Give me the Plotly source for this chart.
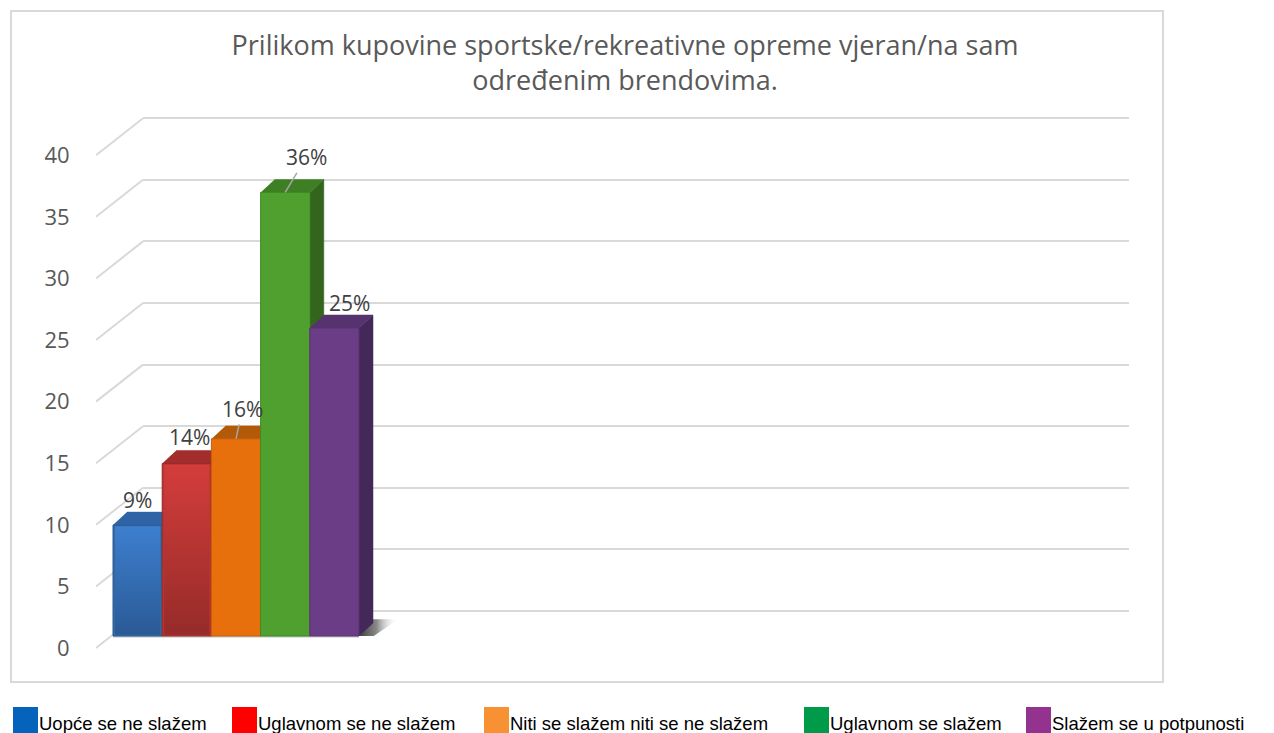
import plotly.graph_objects as go

W, H = 1274, 733

# data
categories = ['Uopće se ne slažem', 'Uglavnom se ne slažem', 'Niti se slažem niti se ne slažem',
              'Uglavnom se slažem', 'Slažem se u potpunosti']
values = [9, 14, 16, 36, 25]
y_ticks = [0, 5, 10, 15, 20, 25, 30, 35, 40]
title_text = "Prilikom kupovine sportske/rekreativne opreme vjeran/na sam<br>određenim brendovima."

# colours of the bar faces
front_colors = ['#34699F', '#B83433', '#E8700C', '#50A02F', '#6A3D86']
top_colors = ['#2E64A6', '#A32D2D', '#B35A08', '#3E7F24', '#56326E']
side_colors = ['#24497A', '#7A2222', '#8F4806', '#33661C', '#432859']
edge_colors = ['#2A5A95', '#962B29', '#C85F08', '#3F8A26', '#5A3373']
legend_colors = ['#0563BB', '#FF0000', '#F79133', '#009B48', '#93338F']
gradients = {0: ['#2A5A95', '#3D7FCF'], 1: ['#962B29', '#D33D3B']}

# layout in pixels
PX_PER_UNIT = 61.6 / 5
PX_PER_BAR = 49.2
PLOT_TOP, PLOT_BOTTOM = 100, 672
LEFT, BACK_LEFT, RIGHT = 96, 143, 1129
BAR_LEFT = 113
ZERO_LABELS, ZERO_BARS, ZERO_BACK = 648, 636, 611
SIDE_DX = 14 / PX_PER_BAR
SIDE_DY = 13 / PX_PER_UNIT


def px(x):
    return x / W


def py(y):
    return 1 - y / H


def y_range(zero):
    return [(zero - PLOT_BOTTOM) / PX_PER_UNIT, (zero - PLOT_TOP) / PX_PER_UNIT]


x_lo = -0.5 - (BAR_LEFT - LEFT) / PX_PER_BAR
x_hi = -0.5 + (RIGHT - BAR_LEFT) / PX_PER_BAR
y_dom = [py(PLOT_BOTTOM), py(PLOT_TOP)]

fig = go.Figure()

# back wall subplot, only there for its gridlines
fig.add_trace(go.Scatter(x=[0], y=[0], xaxis='x', yaxis='y', mode='markers', opacity=0,
                         hoverinfo='skip', showlegend=False))

# side wall lines going back from the tick labels
diag_x, diag_y = [], []
for t in y_ticks:
    diag_x += [x_lo, x_lo + (BACK_LEFT - LEFT) / PX_PER_BAR, None]
    diag_y += [t, t + (ZERO_LABELS - ZERO_BACK) / PX_PER_UNIT, None]
fig.add_trace(go.Scatter(x=diag_x, y=diag_y, xaxis='x2', yaxis='y2', mode='lines',
                         line=dict(color='#D9D9D9', width=2), hoverinfo='skip', showlegend=False))

# floor shadow behind the last bar
n = len(values)
right_edge = n - 0.5
fig.add_trace(go.Scatter(
    x=[right_edge, right_edge + SIDE_DX, right_edge + 0.8, right_edge + 0.3],
    y=[0, 1.35, 1.35, 0],
    xaxis='x2', yaxis='y3', mode='lines', line=dict(width=0), fill='toself',
    fillgradient=dict(type='horizontal',
                      colorscale=[[0, '#3F3F3F'], [0.45, '#8A8A8A'], [1, 'rgba(255,255,255,0)']]),
    hoverinfo='skip', showlegend=False))

# thin shadow under the bars
fig.add_trace(go.Scatter(x=[-0.5, right_edge], y=[-0.05, -0.05], xaxis='x2', yaxis='y3', mode='lines',
                         line=dict(color='#C4C4C4', width=2), hoverinfo='skip', showlegend=False))

# top and side faces, left to right so the next bar covers what it should
for i, v in enumerate(values):
    l, r = i - 0.5, i + 0.5
    fig.add_trace(go.Scatter(
        x=[r, r + SIDE_DX, r + SIDE_DX, r], y=[0, SIDE_DY, v + SIDE_DY, v],
        xaxis='x2', yaxis='y3', mode='lines', line=dict(width=0.5, color=side_colors[i]),
        fill='toself', fillcolor=side_colors[i], hoverinfo='skip', showlegend=False))
    fig.add_trace(go.Scatter(
        x=[l, r, r + SIDE_DX, l + SIDE_DX], y=[v, v, v + SIDE_DY, v + SIDE_DY],
        xaxis='x2', yaxis='y3', mode='lines', line=dict(width=0.5, color=top_colors[i]),
        fill='toself', fillcolor=top_colors[i], hoverinfo='skip', showlegend=False))

# front faces
for i, v in enumerate(values):
    fig.add_trace(go.Bar(x=[i], y=[v], width=1, name=categories[i], xaxis='x2', yaxis='y4',
                         marker=dict(color=front_colors[i], line=dict(color=edge_colors[i], width=1)),
                         showlegend=False))

# blue and red fade towards the floor
for i, stops in gradients.items():
    v = values[i]
    l, r = i - 0.46, i + 0.46
    fig.add_trace(go.Scatter(
        x=[l, r, r, l], y=[0.1, 0.1, v - 0.1, v - 0.1], xaxis='x2', yaxis='y4',
        mode='lines', line=dict(width=0), fill='toself',
        fillgradient=dict(type='vertical', colorscale=[[0, stops[0]], [1, stops[1]]]),
        hoverinfo='skip', showlegend=False))

# data labels, two of them with leader lines
label_font = dict(family='Open Sans', size=21, color='#404040')
label_offsets = [(0, 25), (3, 27), (6.5, 30), (21, 35), (15, 25)]
leaders = [False, False, True, True, False]
annotations = []
for i, v in enumerate(values):
    dx, dy = label_offsets[i]
    a = dict(x=i, y=v, xref='x2', yref='y4', text=f'{v}%', font=label_font, yanchor='middle', xanchor='center')
    if leaders[i]:
        a.update(showarrow=True, arrowhead=0, arrowwidth=1.5, arrowcolor='#A6A6A6', ax=dx, ay=-dy, standoff=0)
    else:
        a.update(showarrow=False, xshift=dx, yshift=dy)
    annotations.append(a)

# legend below the frame
legend_x = [13, 232, 484, 804, 1026]
shapes = [dict(type='rect', xref='paper', yref='paper', x0=px(11), x1=px(1163), y0=py(682), y1=py(11),
               line=dict(color='#D9D9D9', width=2), fillcolor='rgba(0,0,0,0)', layer='below')]
for name, color, lx in zip(categories, legend_colors, legend_x):
    shapes.append(dict(type='rect', xref='paper', yref='paper', x0=px(lx), x1=px(lx + 25),
                       y0=py(733), y1=py(707), line=dict(width=0), fillcolor=color))
    annotations.append(dict(x=px(lx + 25), y=py(723), xref='paper', yref='paper', text=name, showarrow=False,
                            xanchor='left', yanchor='middle', xshift=-1,
                            font=dict(family='Liberation Sans', size=18.5, color='#000000')))

hidden = dict(visible=False, fixedrange=True)
tick_axis = dict(range=y_range(ZERO_LABELS), domain=y_dom, anchor='x2', tickvals=y_ticks, showgrid=False,
                 zeroline=False, showline=False, ticks='outside', ticklen=18, tickcolor='rgba(0,0,0,0)',
                 ticklabelstandoff=3, tickfont=dict(family='Open Sans', size=22, color='#595959'))

fig.update_layout(
    width=W, height=H,
    margin=dict(l=0, r=0, t=0, b=0),
    paper_bgcolor='white',
    plot_bgcolor='rgba(0,0,0,0)',
    barmode='overlay',
    showlegend=False,
    title=dict(text=title_text, x=px(625), y=py(55), xanchor='center', yanchor='middle',
               font=dict(family='Open Sans', size=27, color='#595959')),
    xaxis=dict(domain=[px(BACK_LEFT), px(RIGHT)], anchor='y', **hidden),
    yaxis=dict(domain=y_dom, anchor='x', range=y_range(ZERO_BACK), tickvals=y_ticks, showgrid=True,
               gridcolor='#D9D9D9', gridwidth=2, zeroline=False, showticklabels=False, ticks=''),
    xaxis2=dict(domain=[px(LEFT), px(RIGHT)], anchor='y2', range=[x_lo, x_hi], **hidden),
    yaxis2=tick_axis,
    yaxis3=dict(range=y_range(ZERO_BARS), domain=y_dom, anchor='x2', overlaying='y2', **hidden),
    yaxis4=dict(range=y_range(ZERO_BARS), domain=y_dom, anchor='x2', overlaying='y2', **hidden),
    shapes=shapes,
    annotations=annotations,
)

fig.write_html("out.html", config={"displayModeBar": False},
               post_script="document.body.style.margin='0';document.body.style.overflow='hidden';")
